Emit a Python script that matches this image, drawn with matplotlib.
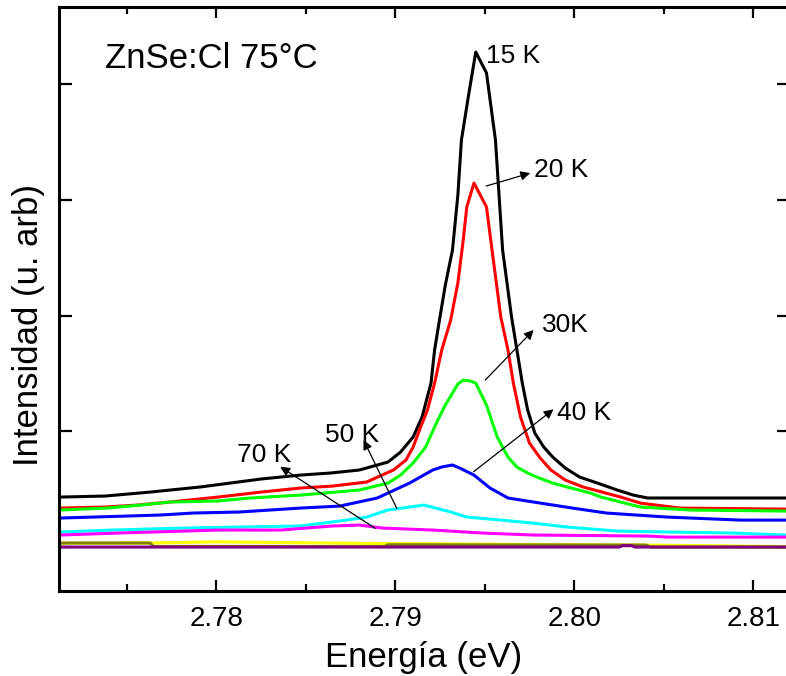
import matplotlib
matplotlib.use('Agg')  # no display
import matplotlib.pyplot as plt
from matplotlib.ticker import MultipleLocator

plt.rcParams['font.family'] = ['Liberation Sans', 'DejaVu Sans']

# ---- datos (energia en eV, intensidad en u. arb) ----
x_15k = [2.7713, 2.7738, 2.7763, 2.7791, 2.7825, 2.7847, 2.7864, 2.7880, 2.7896, 2.7903,
         2.7910, 2.7915, 2.7920, 2.7922, 2.7925, 2.7928, 2.7932, 2.7935, 2.7937, 2.7941,
         2.7945, 2.7951, 2.7956, 2.7960, 2.7965, 2.7968, 2.7971, 2.7974, 2.7978, 2.7983,
         2.7988, 2.7995, 2.8003, 2.8013, 2.8024, 2.8033, 2.8041, 2.8118]
y_15k = [0.432, 0.441, 0.475, 0.519, 0.588, 0.622, 0.640, 0.666, 0.735, 0.821,
         0.951, 1.124, 1.417, 1.703, 1.988, 2.265, 2.567, 3.042, 3.518, 3.907,
         4.278, 4.097, 3.518, 2.567, 1.988, 1.703, 1.417, 1.184, 0.985, 0.864,
         0.778, 0.683, 0.605, 0.553, 0.493, 0.449, 0.424, 0.424]

x_20k = [2.7713, 2.7738, 2.7756, 2.7774, 2.7801, 2.7825, 2.7847, 2.7865, 2.7884, 2.7899,
         2.7906, 2.7910, 2.7914, 2.7918, 2.7922, 2.7926, 2.7931, 2.7935, 2.7938, 2.7940,
         2.7944, 2.7951, 2.7953, 2.7959, 2.7963, 2.7966, 2.7970, 2.7975, 2.7981, 2.7987,
         2.7995, 2.8005, 2.8026, 2.8037, 2.8059, 2.8118]
y_20k = [0.337, 0.346, 0.363, 0.389, 0.432, 0.475, 0.510, 0.527, 0.562, 0.666,
         0.752, 0.864, 1.029, 1.184, 1.417, 1.703, 1.962, 2.282, 2.653, 2.939,
         3.146, 2.939, 2.697, 1.988, 1.703, 1.417, 1.124, 0.899, 0.769, 0.666,
         0.579, 0.519, 0.432, 0.380, 0.337, 0.328]

x_30k = [2.7713, 2.7739, 2.7758, 2.7774, 2.7801, 2.7819, 2.7847, 2.7880, 2.7896, 2.7903,
         2.7910, 2.7917, 2.7923, 2.7928, 2.7932, 2.7935, 2.7938, 2.7942, 2.7945, 2.7951,
         2.7957, 2.7963, 2.7968, 2.7974, 2.7979, 2.7988, 2.7996, 2.8009, 2.8015, 2.8037,
         2.8065, 2.8118]
y_30k = [0.320, 0.337, 0.363, 0.389, 0.398, 0.424, 0.449, 0.493, 0.553, 0.622,
         0.726, 0.864, 1.072, 1.227, 1.331, 1.409, 1.443, 1.435, 1.417, 1.227,
         0.951, 0.778, 0.691, 0.640, 0.605, 0.553, 0.519, 0.467, 0.432, 0.346,
         0.320, 0.311]

x_40k = [2.7713, 2.7731, 2.7769, 2.7787, 2.7813, 2.7847, 2.7869, 2.7890, 2.7908, 2.7921,
         2.7926, 2.7932, 2.7936, 2.7944, 2.7953, 2.7963, 2.7981, 2.7999, 2.8018, 2.8052,
         2.8093, 2.8118]
y_40k = [0.251, 0.259, 0.277, 0.294, 0.303, 0.337, 0.354, 0.424, 0.553, 0.666,
         0.692, 0.709, 0.683, 0.622, 0.510, 0.424, 0.380, 0.337, 0.294, 0.259,
         0.233, 0.233]

x_50k = [2.7713, 2.7742, 2.7782, 2.7813, 2.7847, 2.7869, 2.7884, 2.7896, 2.7916, 2.7931,
         2.7940, 2.7959, 2.7977, 2.7996, 2.8024, 2.8052, 2.8089, 2.8118]
y_50k = [0.130, 0.147, 0.164, 0.173, 0.182, 0.225, 0.259, 0.320, 0.363, 0.303,
         0.259, 0.233, 0.207, 0.173, 0.138, 0.130, 0.121, 0.104]

x_70k = [2.7713, 2.7745, 2.7801, 2.7836, 2.7865, 2.7880, 2.7893, 2.7921, 2.7949, 2.7977,
         2.8042, 2.8052, 2.8118]
y_70k = [0.104, 0.121, 0.147, 0.147, 0.182, 0.190, 0.164, 0.147, 0.121, 0.104,
         0.095, 0.086, 0.086]

# curvas casi planas del fondo
x_amarillo = [2.7713, 2.7763, 2.7800, 2.7896, 2.8040, 2.8118]
y_amarillo = [0.033, 0.035, 0.045, 0.030, 0.017, 0.005]

x_oliva = [2.7713, 2.7763, 2.7765, 2.7894, 2.7896, 2.8040, 2.8043, 2.8118]
y_oliva = [0.035, 0.035, 0.005, 0.005, 0.020, 0.017, 0.0, 0.0]

x_morado = [2.7713, 2.8025, 2.8027, 2.8032, 2.8034, 2.8118]
y_morado = [0.0, 0.0, 0.012, 0.012, 0.0, 0.0]

series = [
    (x_15k, y_15k, 'black'),
    (x_20k, y_20k, '#ff0000'),
    (x_30k, y_30k, '#00ff00'),
    (x_40k, y_40k, '#0000ff'),
    (x_50k, y_50k, '#00ffff'),
    (x_70k, y_70k, '#ff00ff'),
    (x_amarillo, y_amarillo, '#ffff00'),
    (x_oliva, y_oliva, '#808000'),
    (x_morado, y_morado, '#800080'),
]

# etiquetas: (texto, posicion del texto, cola de flecha, punta de flecha)
etiquetas = [
    ('15 K', (2.7951, 4.181), None, None),
    ('20 K', (2.79773, 3.201), (2.79508, 3.120), (2.79754, 3.232)),
    ('30K', (2.79820, 1.861), (2.79503, 1.443), (2.79773, 1.876)),
    ('40 K', (2.79903, 1.098), (2.79438, 0.651), (2.79884, 1.190)),
    ('50 K', (2.78609, 0.910), (2.79009, 0.334), (2.78823, 0.925)),
    ('70 K', (2.78116, 0.737), (2.78888, 0.162), (2.78358, 0.694)),
]

x_ticks = [2.78, 2.79, 2.80, 2.81]
x_tick_labels = ['2.78', '2.79', '2.80', '2.81']
y_ticks = [0, 1, 2, 3, 4]

# ---- figura ----
fig = plt.figure(figsize=(7.86, 6.76), dpi=100)
ax = fig.add_axes([0.0747, 0.1257, 0.9291, 0.8644])

for xs, ys, color in series:
    ax.plot(xs, ys, color=color, lw=2.2, solid_joinstyle='round')

for texto, pos, cola, punta in etiquetas:
    ax.text(pos[0], pos[1], texto, fontsize=19, ha='left', va='baseline')
    if cola is not None:
        ax.annotate('', xy=punta, xytext=cola,
                    arrowprops=dict(arrowstyle='-|>', lw=0.9, color='black',
                                    mutation_scale=14, shrinkA=0, shrinkB=0))

ax.text(2.7738, 4.140, 'ZnSe:Cl 75°C', fontsize=25, ha='left', va='baseline')

ax.set_xlim(2.7712, 2.8120)
ax.set_ylim(-0.380, 4.670)
ax.set_xticks(x_ticks)
ax.set_xticklabels(x_tick_labels)
ax.xaxis.set_minor_locator(MultipleLocator(0.005))
ax.set_yticks(y_ticks)
ax.set_yticklabels([])

ax.tick_params(axis='x', which='major', direction='in', top=True, length=8, width=1.6,
               labelsize=20, pad=11)
ax.tick_params(axis='x', which='minor', direction='in', top=True, length=5, width=1.6)
ax.tick_params(axis='y', which='major', direction='in', right=True, length=9, width=1.6)

for sp in ax.spines.values():
    sp.set_linewidth(2.2)

ax.set_xlabel('Energía (eV)', fontsize=25)
ax.xaxis.set_label_coords(0.5, -0.0856)
ax.set_ylabel('Intensidad (u. arb)', fontsize=25)
ax.yaxis.set_label_coords(-0.0194, 0.456)

fig.savefig('out.png', dpi=100)
plt.close(fig)
